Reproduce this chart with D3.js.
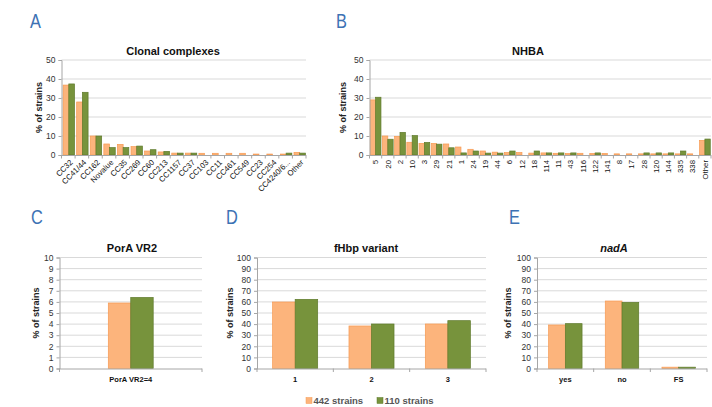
<!DOCTYPE html>
<html><head><meta charset="utf-8">
<script src="https://cdn.jsdelivr.net/npm/d3@7"></script>
<style>
body{margin:0;background:#fff;}
svg{display:block;font-family:"Liberation Sans",Arial,sans-serif;}
.panel-letter{font-family:"Liberation Sans",Arial,sans-serif;font-size:21px;fill:#3d72b4;}
</style></head><body>
<svg id="chart" width="712" height="407"></svg>
<script>
// ---------- DATA ----------
const seriesNames = ["442 strains", "110 strains"];

const ccCategories = ["CC32","CC41/44","CC162","Novalue","CC35","CC269","CC60","CC213","CC1157","CC37","CC103","CC11","CC461","CC549","CC23","CC254","CC4240/6...","Other"];
const cc442 = [36.8,27.9,10,5.8,5.6,4.4,2.1,1.6,1.0,1.0,0.9,0.9,0.9,0.9,0.5,0.5,0.5,1.4];
const cc110 = [37.4,33,10,3.9,3.9,4.7,2.8,1.9,1.0,1.0,0,0,0,0,0,0,1.0,1.0];

const nhbaCategories = ["5","20","2","10","3","29","21","1","24","19","44","6","12","18","114","11","43","116","122","141","8","17","28","120","144","335","338","Other"];
const nhba442 = [29,10,9.8,6.7,6.1,6.1,5.8,4.2,3.0,2.1,1.5,1.3,1.3,1.0,1.1,0.9,0.8,0.9,0.8,0.8,0.6,0.6,0.6,0.6,0.6,0.6,0.6,7.7];
const nhba110 = [30.4,8.3,11.9,10.2,6.6,5.7,3.8,1.1,2.1,1.0,1.0,2.1,0,2.1,1.1,1.1,1.1,0,1.1,0,0,0,1.1,1.1,1.1,2.1,0,8.4];

const poraCategories = ["PorA VR2=4"];
const pora442 = [5.9];
const pora110 = [6.4];

const fhbpCategories = ["1","2","3"];
const fhbp442 = [59.9,38.3,40.1];
const fhbp110 = [62.3,40.1,43.1];

const nadaCategories = ["yes","no","FS"];
const nada442 = [39.2,60.8,1.2];
const nada110 = [40.4,59.6,1.2];

const ticks50 = [0,10,20,30,40,50];
const ticks10 = [0,1,2,3,4,5,6,7,8,9,10];
const ticks100 = [0,10,20,30,40,50,60,70,80,90,100];

// ---------- STYLE ----------
const fills = ["#fcb47c", "#77933c"];
const strokes = ["#f79a52", "#5e7a2c"];

const svg = d3.select("#chart");

function panel(o){
  const g = svg.append("g");
  const x = d3.scaleBand().domain(o.cats).range([o.x0, o.x1]);
  const y = d3.scaleLinear().domain([0, o.max]).range([o.y1, o.y0]);
  const bw = x.bandwidth();
  const x1 = d3.scaleBand().domain([0,1]).range([bw*(1-o.frac)/2 + (o.shift||0), bw*(1+o.frac)/2 + (o.shift||0)]);

  // gridlines
  g.selectAll(".grid").data(o.ticks.filter(t=>t>0)).join("line")
    .attr("x1", o.x0).attr("x2", o.x1)
    .attr("y1", d=>y(d)).attr("y2", d=>y(d))
    .attr("stroke", "#d9d9d9").attr("stroke-width", 1);

  // bars
  const data = [];
  o.cats.forEach((c,i)=>{ [o.a, o.b].forEach((arr,s)=>{ data.push({c, s, v: arr[i]}); }); });
  g.selectAll(".bar").data(data.filter(d=>d.v>0)).join("rect")
    .attr("x", d=>x(d.c)+x1(d.s))
    .attr("width", x1.bandwidth())
    .attr("y", d=>y(d.v))
    .attr("height", d=>y(0)-y(d.v))
    .attr("fill", d=>fills[d.s])
    .attr("stroke", d=>strokes[d.s]).attr("stroke-width", o.sw||0.7);

  // y axis
  const ya = g.append("g").attr("transform", `translate(${o.x0},0)`)
    .call(d3.axisLeft(y).tickValues(o.ticks).tickSize(3).tickPadding(3).tickFormat(d3.format("d")));
  ya.select(".domain").attr("stroke", "#a6a6a6");
  ya.selectAll(".tick line").attr("stroke", "#a6a6a6");
  ya.selectAll("text").attr("fill", "#333").attr("font-size", 8.5).attr("font-family", "Liberation Sans, Arial, sans-serif");

  // x axis line + boundary ticks
  g.append("line").attr("x1", o.x0).attr("x2", o.x1).attr("y1", y(0)+0.5).attr("y2", y(0)+0.5).attr("stroke", "#a6a6a6");
  const bounds = o.cats.map(c=>x(c)).concat([o.x1]);
  g.selectAll(".xt").data(bounds).join("line")
    .attr("x1", d=>d).attr("x2", d=>d)
    .attr("y1", y(0)).attr("y2", y(0)+3.5).attr("stroke", "#a6a6a6");

  // x labels
  const xl = g.selectAll(".xl").data(o.cats).join("text")
    .attr("fill", "#111").attr("font-size", o.xfs||8)
    .attr("font-weight", o.xbold ? "bold" : "normal")
    .text(d=>d);
  if (o.rot === -45) {
    xl.attr("text-anchor", "end")
      .attr("transform", d=>`translate(${x(d)+bw/2+3},${y(0)+6}) rotate(-45)`)
      .attr("dy", "0.35em");
  } else if (o.rot === -90) {
    xl.attr("text-anchor", "end")
      .attr("transform", d=>`translate(${x(d)+bw/2},${y(0)+5}) rotate(-90)`)
      .attr("dy", "0.35em");
  } else {
    xl.attr("text-anchor", "middle")
      .attr("x", d=>x(d)+bw/2).attr("y", y(0)+13);
  }

  // y label
  g.append("text").attr("transform", `translate(${o.ylx},${(o.y0+o.y1)/2}) rotate(-90)`)
    .attr("text-anchor", "middle").attr("dy", "0.35em")
    .attr("font-size", 9).attr("font-weight", "bold").attr("fill", "#222")
    .text("% of strains");

  // title
  g.append("text").attr("x", o.tx).attr("y", o.ty).attr("text-anchor", "middle")
    .attr("font-size", 11).attr("font-weight", "bold").attr("fill", "#111")
    .attr("font-style", o.italic ? "italic" : "normal")
    .text(o.title);

  // letter (condensed look)
  g.append("text").attr("class", "panel-letter")
    .attr("transform", `translate(${o.lx},${o.ly}) scale(0.78,1)`).text(o.letter);
}

panel({cats: ccCategories, a: cc442, b: cc110, x0: 61.5, x1: 306, y0: 60, y1: 155, max: 50, ticks: ticks50,
  frac: 0.84, shift: 0.5, rot: -45, ylx: 39, tx: 173, ty: 55, title: "Clonal complexes", letter: "A", lx: 30, ly: 28, xfs: 7.8});
panel({cats: nhbaCategories, a: nhba442, b: nhba110, x0: 369.5, x1: 711, y0: 60, y1: 155, max: 50, ticks: ticks50,
  frac: 0.88, rot: -90, ylx: 343, tx: 528, ty: 55, title: "NHBA", letter: "B", lx: 336, ly: 28, xfs: 7.8});
panel({cats: poraCategories, a: pora442, b: pora110, x0: 59.5, x1: 202, y0: 257.5, y1: 368.5, max: 10, ticks: ticks10,
  frac: 0.315, rot: 0, xbold: true, xfs: 7.5, ylx: 36, tx: 132, ty: 252, title: "PorA VR2", letter: "C", lx: 31, ly: 224});
panel({cats: fhbpCategories, a: fhbp442, b: fhbp110, x0: 257, x1: 486, y0: 257.5, y1: 368.5, max: 100, ticks: ticks100,
  frac: 0.59, rot: 0, xbold: true, xfs: 7.5, ylx: 230, tx: 366, ty: 252, title: "fHbp variant", letter: "D", lx: 226, ly: 224});
panel({cats: nadaCategories, a: nada442, b: nada110, x0: 537, x1: 707, y0: 257.5, y1: 368.5, max: 100, ticks: ticks100,
  frac: 0.59, rot: 0, xbold: true, xfs: 7.5, ylx: 508, tx: 614, ty: 252, title: "nadA", italic: true, letter: "E", lx: 509, ly: 224});

// legend
const lg = svg.append("g");
const legX = [306, 377];
seriesNames.forEach((n,i)=>{
  lg.append("rect").attr("x", legX[i]).attr("y", 397.5).attr("width", 6).attr("height", 6)
    .attr("fill", fills[i]).attr("stroke", strokes[i]).attr("stroke-width", 0.5);
  lg.append("text").attr("x", legX[i]+7.5).attr("y", 400.7).attr("dy", "0.35em")
    .attr("font-size", 9.5).attr("font-weight", "bold").attr("fill", "#555").text(n);
});
</script>
</body></html>
